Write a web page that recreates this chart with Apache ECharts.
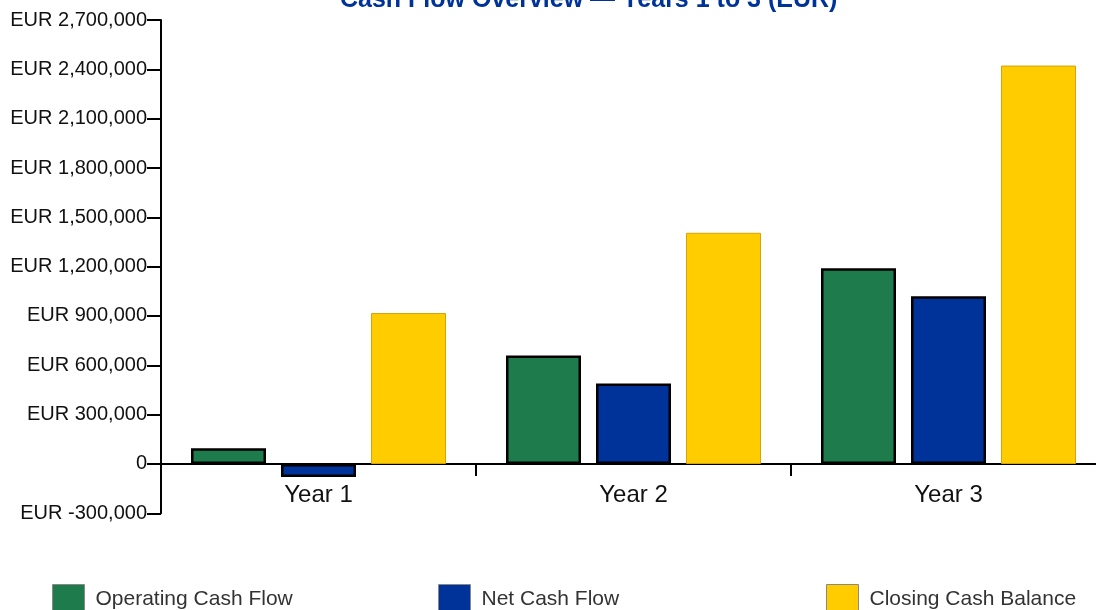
<!DOCTYPE html>
<html>
<head>
<meta charset="utf-8">
<script src="https://cdn.jsdelivr.net/npm/echarts@6/dist/echarts.min.js"></script>
<style>html,body{margin:0;padding:0;background:#fff;}#c{width:1096px;height:610px;}</style>
</head>
<body>
<div id="c"></div>
<script>
var categories = ['Year 1', 'Year 2', 'Year 3'];
var operatingCashFlow = [95000, 660000, 1190000];
var netCashFlow = [-80000, 490000, 1020000];
var closingCashBalance = [918000, 1406000, 2423000];
var seriesNames = ['Operating Cash Flow', 'Net Cash Flow', 'Closing Cash Balance'];
var yMin = -300000, yMax = 2700000, yStep = 300000;

var FONT = '"Liberation Sans", Arial, sans-serif';
var chart = echarts.init(document.getElementById('c'), null, {renderer: 'canvas'});

function fmt(v) {
  if (v === 0) return '0';
  return 'EUR ' + v.toLocaleString('en-US');
}
function legendAt(name, left) {
  return {
    data: [{name: name, icon: 'rect'}], left: left, top: 584, orient: 'horizontal',
    itemWidth: 32, itemHeight: 30, padding: 0,
    selectedMode: false,
    itemStyle: {borderColor: '#888', borderWidth: 1},
    textStyle: {fontFamily: FONT, fontSize: 21, color: '#333', padding: [0, 0, 0, 6]}
  };
}

chart.setOption({
  animation: false,
  backgroundColor: '#fff',
  title: {
    text: 'Cash Flow Overview \u2014 Years 1 to 3 (EUR)',
    left: 340, top: -12, padding: 0,
    textStyle: {fontFamily: FONT, fontSize: 25, fontWeight: 'bold', color: '#003399'}
  },
  legend: [
    legendAt(seriesNames[0], 52),
    legendAt(seriesNames[1], 438),
    legendAt(seriesNames[2], 826)
  ],
  grid: {left: 161, width: 945, top: 20, height: 493.3, containLabel: false, outerBoundsMode: 'none'},
  xAxis: {
    type: 'category', data: categories,
    axisLine: {onZero: true, lineStyle: {color: '#000', width: 2}},
    axisTick: {show: true, length: 12, lineStyle: {color: '#000', width: 2}},
    axisLabel: {fontFamily: FONT, fontSize: 24, color: '#111', margin: -30}
  },
  yAxis: {
    type: 'value', min: yMin, max: yMax, interval: yStep,
    splitLine: {show: false},
    axisLine: {show: true, lineStyle: {color: '#000', width: 2}},
    axisTick: {show: true, length: 14, lineStyle: {color: '#000', width: 2}},
    axisLabel: {fontFamily: FONT, fontSize: 20, color: '#111', margin: 14, formatter: fmt}
  },
  series: [
    {name: seriesNames[0], type: 'bar', data: operatingCashFlow, barWidth: 75, barGap: '20%',
     itemStyle: {color: '#1e7b4b', borderColor: '#000', borderWidth: 2.5}},
    {name: seriesNames[1], type: 'bar', data: netCashFlow, barWidth: 75, barGap: '20%',
     itemStyle: {color: '#003399', borderColor: '#000', borderWidth: 2.5}},
    {name: seriesNames[2], type: 'bar', data: closingCashBalance, barWidth: 75, barGap: '20%',
     itemStyle: {color: '#ffcc00', borderColor: '#d4a40a', borderWidth: 1}}
  ]
});
</script>
</body>
</html>
